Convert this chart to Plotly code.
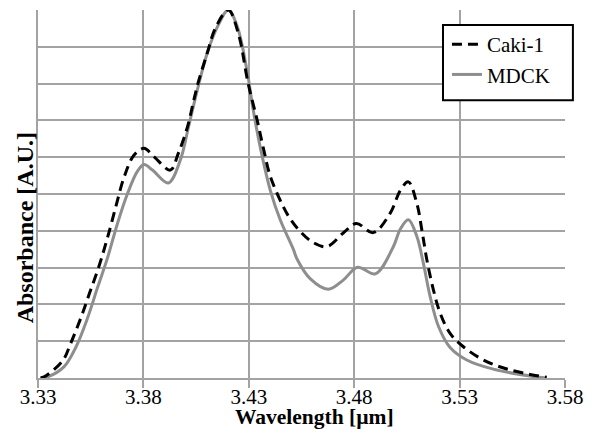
import plotly.graph_objects as go

# Wavelength (µm) and absorbance (A.U.)
caki_wavelength = [3.3312, 3.3329, 3.3416, 3.3455, 3.3503, 3.3543, 3.3590, 3.3629, 3.3669, 3.3709,
                   3.3756, 3.3803, 3.3851, 3.3928, 3.3966, 3.4009, 3.4037, 3.4061, 3.4103, 3.4141,
                   3.4203, 3.4250, 3.4297, 3.4340, 3.4369, 3.4402, 3.4464, 3.4497, 3.4544, 3.4606,
                   3.4671, 3.4748, 3.4810, 3.4890, 3.4971, 3.5019, 3.5057, 3.5097, 3.5121, 3.5145,
                   3.5176, 3.5208, 3.5255, 3.5318, 3.5413, 3.5539, 3.5713]
caki_absorbance = [0.0, 0.003, 0.046, 0.094, 0.163, 0.228, 0.305, 0.38, 0.465, 0.547,
                   0.606, 0.624, 0.601, 0.565, 0.611, 0.682, 0.750, 0.805, 0.883, 0.950,
                   1.0, 0.937, 0.80, 0.70, 0.625, 0.548, 0.465, 0.432, 0.398, 0.368,
                   0.357, 0.394, 0.42, 0.395, 0.448, 0.51, 0.533, 0.475, 0.402, 0.32,
                   0.239, 0.176, 0.121, 0.085, 0.049, 0.022, 0.002]

mdck_wavelength = [3.3312, 3.3345, 3.3424, 3.3479, 3.3535, 3.3582, 3.3629, 3.3677, 3.3724, 3.3772,
                   3.3803, 3.3843, 3.3918, 3.3975, 3.4014, 3.4056, 3.4103, 3.4151, 3.4203, 3.4246,
                   3.4293, 3.4321, 3.4354, 3.4402, 3.4449, 3.4511, 3.4530, 3.4591, 3.4677, 3.4748,
                   3.4816, 3.4900, 3.4985, 3.5019, 3.5057, 3.5097, 3.5128, 3.5160, 3.5200, 3.5255,
                   3.5334, 3.5460, 3.5650, 3.5713]
mdck_absorbance = [0.0, 0.003, 0.031, 0.083, 0.163, 0.245, 0.325, 0.42, 0.50, 0.562,
                   0.58, 0.565, 0.53, 0.592, 0.682, 0.783, 0.883, 0.954, 1.0, 0.954,
                   0.83, 0.728, 0.628, 0.51, 0.43, 0.35, 0.322, 0.27, 0.241, 0.266,
                   0.301, 0.283, 0.356, 0.405, 0.43, 0.385, 0.312, 0.222, 0.14, 0.083,
                   0.049, 0.024, 0.004, 0.0]

x_ticks = [3.33, 3.38, 3.43, 3.48, 3.53, 3.58]
x_tick_labels = ["3.33", "3.38", "3.43", "3.48", "3.53", "3.58"]

FONT = "Liberation Serif, Times New Roman, serif"
GRID = "#a3a3a3"

fig = go.Figure()
fig.add_trace(go.Scatter(
    x=mdck_wavelength, y=mdck_absorbance, name="MDCK", mode="lines",
    line=dict(color="#8e8e8e", width=3, shape="spline", smoothing=1.0),
))
fig.add_trace(go.Scatter(
    x=caki_wavelength, y=caki_absorbance, name="Caki-1", mode="lines",
    line=dict(color="#000000", width=3, dash="10px,6px", shape="spline", smoothing=1.0),
))

fig.update_layout(
    width=606, height=430,
    margin=dict(l=38, r=41, t=10, b=52),
    paper_bgcolor="white", plot_bgcolor="white",
    font=dict(family=FONT, size=21, color="black"),
    showlegend=True,
    legend=dict(
        x=0.776, y=0.962, xanchor="left", yanchor="top",
        bgcolor="rgba(0,0,0,0)", borderwidth=0,
        font=dict(family=FONT, size=21, color="black"),
        traceorder="reversed",
    ),
    shapes=[
        dict(type="rect", xref="paper", yref="paper",
             x0=0.7685, x1=1.015, y0=0.755, y1=0.959, layer="above",
             fillcolor="white", line=dict(color="black", width=2)),
    ],
    xaxis=dict(
        range=[3.33, 3.58], tickvals=x_ticks, ticktext=x_tick_labels,
        showgrid=True, gridcolor=GRID, gridwidth=1.5,
        ticks="outside", ticklen=8, tickcolor=GRID, tickwidth=1.5,
        ticklabelstandoff=-9,
        showline=True, linecolor=GRID, linewidth=1.5,
        zeroline=False, tickfont=dict(family=FONT, size=21, color="black"),
    ),
    yaxis=dict(
        range=[0, 1], dtick=0.1, showticklabels=False,
        showgrid=True, gridcolor=GRID, gridwidth=1.5,
        showline=True, linecolor=GRID, linewidth=1.5,
        zeroline=False, ticks="",
    ),
    annotations=[
        dict(text="<b>Wavelength [µm]</b>", xref="paper", yref="paper",
             x=0.524, y=-0.107, xanchor="center", yanchor="middle",
             showarrow=False, font=dict(family=FONT, size=21.5, color="black")),
        dict(text="<b>Absorbance [A.U.]</b>", xref="paper", yref="paper",
             x=-0.0256, y=0.408, xanchor="center", yanchor="middle", textangle=-90,
             showarrow=False, font=dict(family=FONT, size=24, color="black")),
    ],
)

fig.write_html("out.html", config={"displayModeBar": False},
               post_script="document.body.style.margin='0';")
